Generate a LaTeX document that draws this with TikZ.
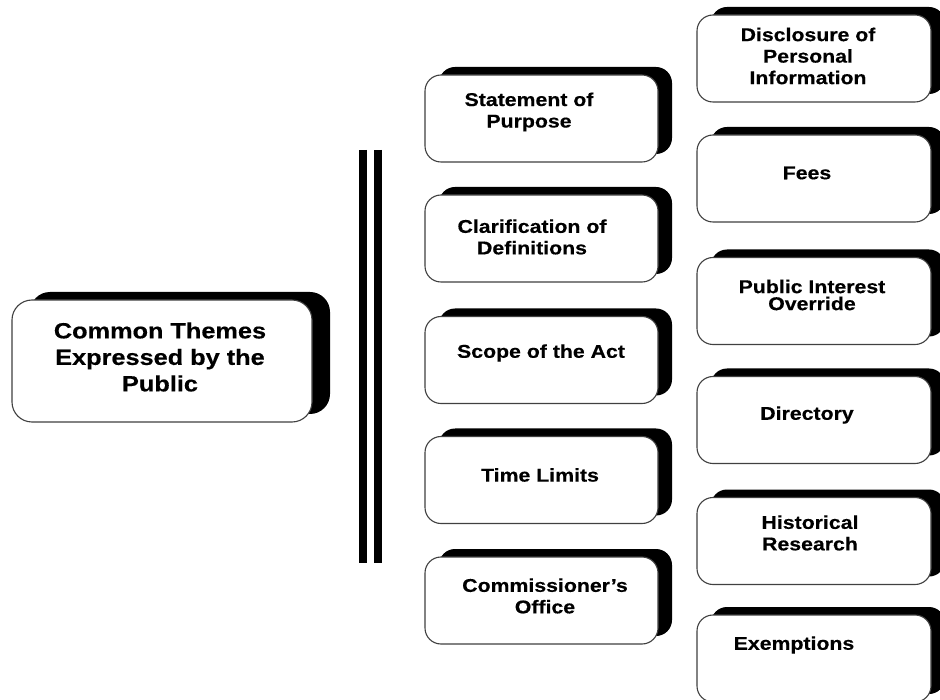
\documentclass[tikz,border=0pt]{standalone}
\usepackage{fontspec}
\newfontfamily\boxfont{Liberation Sans}[FakeStretch=1.15,FakeBold=0.4]
\usetikzlibrary{shadows}
\begin{document}
\begin{tikzpicture}[x=1pt,y=-1pt,
  themebox/.style={draw=black!75, line width=1.1pt, fill=white,
    rounded corners=16pt, minimum width=233pt, minimum height=87pt, inner sep=0pt,
    drop shadow={shadow xshift=14pt, shadow yshift=8pt, fill=black, opacity=1}},
  bigbox/.style={draw=black!75, line width=1.1pt, fill=white,
    rounded corners=20pt, minimum width=300pt, minimum height=122pt, inner sep=0pt,
    drop shadow={shadow xshift=18pt, shadow yshift=8pt, fill=black, opacity=1}},
  txt/.style={font=\boxfont\bfseries\fontsize{18.5pt}{21.5pt}\selectfont,
    align=center, inner sep=0pt, text=black},
  bigtxt/.style={font=\boxfont\bfseries\fontsize{22pt}{26.5pt}\selectfont,
    align=center, inner sep=0pt, text=black},
  bar/.style={line width=8pt, draw=black}]
\clip (0,0) rectangle (940,700);
\fill[white] (0,0) rectangle (940,700);

% double vertical bar
\coordinate (b1t) at (363,150);
\coordinate (b1b) at (363,563);
\coordinate (b2t) at (378,150);
\coordinate (b2b) at (378,563);
\draw[bar] (b1t) -- (b1b);
\draw[bar] (b2t) -- (b2b);

% left box
\node[bigbox] (common) at (162,361) {};
\node[bigtxt] (tcommon) at (160,357) {Common Themes\\Expressed by the\\Public};

% middle column
\node[themebox] (purpose) at (541.5,118.5) {};
\node[txt] (tpurpose) at (529,112) {Statement of\\Purpose};
\node[themebox] (defs) at (541.5,238.5) {};
\node[txt] (tdefs) at (532,237) {Clarification of\\Definitions};
\node[themebox] (scope) at (541.5,360) {};
\node[txt] (tscope) at (541,353) {Scope of the Act};
\node[themebox] (time) at (541.5,480) {};
\node[txt] (ttime) at (540,475) {Time Limits};
\node[themebox] (comm) at (541.5,600.5) {};
\node[txt] (tcomm) at (545,596) {Commissioner’s\\Office};

% right column
\node[themebox, minimum width=234pt] (disc) at (814,58.5) {};
\node[txt] (tdisc) at (808,56) {Disclosure of\\Personal\\Information};
\node[themebox, minimum width=234pt] (fees) at (814,178.5) {};
\node[txt] (tfees) at (807,173) {Fees};
\node[themebox, minimum width=234pt] (pio) at (814,301) {};
\node[txt, font=\boxfont\bfseries\fontsize{18.5pt}{17pt}\selectfont] (tpio) at (812,295) {Public Interest\\Override};
\node[themebox, minimum width=234pt] (dir) at (814,420) {};
\node[txt] (tdir) at (807,415) {Directory};
\node[themebox, minimum width=234pt] (hist) at (814,541) {};
\node[txt] (thist) at (810,533) {Historical\\Research};
\node[themebox, minimum width=234pt] (exem) at (814,658.5) {};
\node[txt] (texem) at (794,645) {Exemptions};
\end{tikzpicture}
\end{document}
